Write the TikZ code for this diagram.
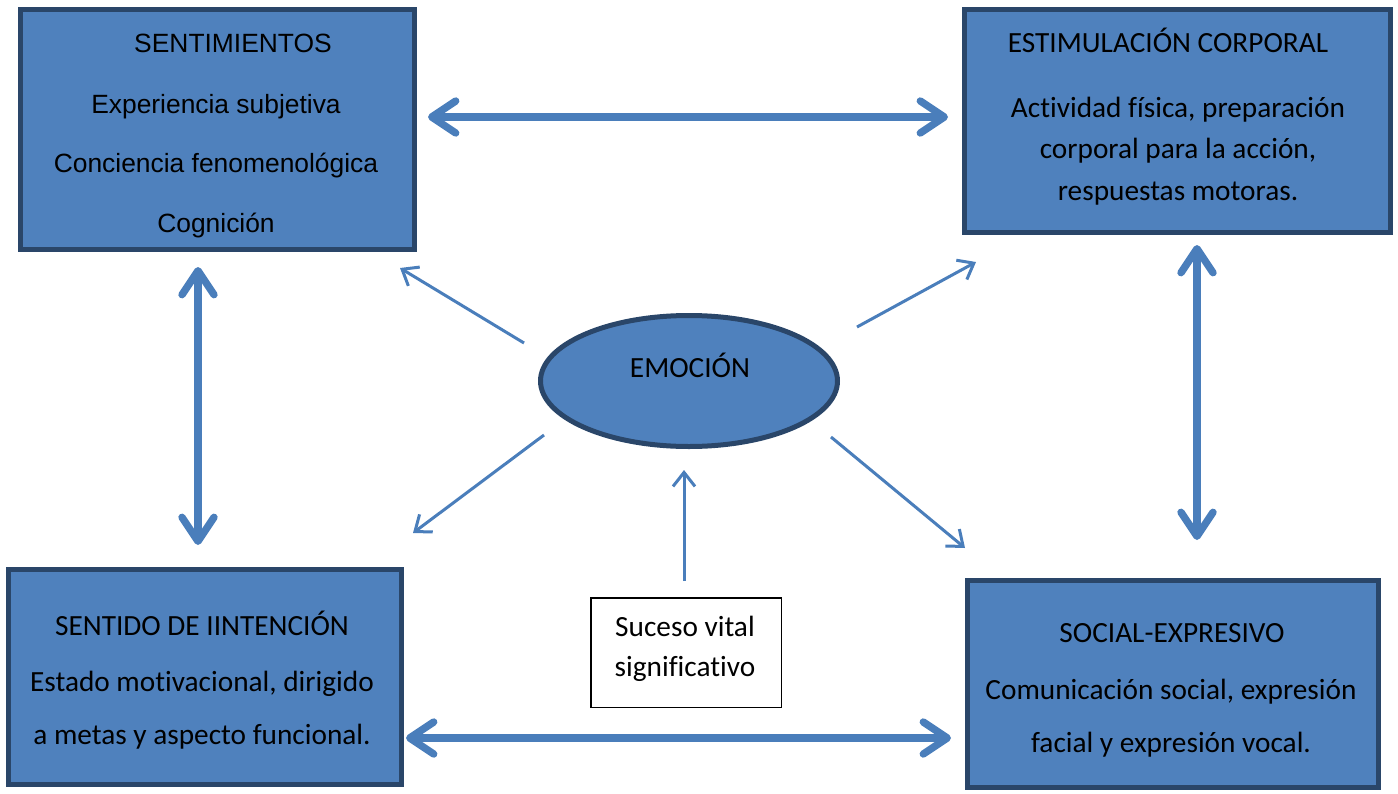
\documentclass[tikz,border=0pt]{standalone}
\usepackage{fontspec}
\setmainfont[Ligatures=NoCommon]{Carlito}
\newfontfamily\arialf{Liberation Sans}
\usetikzlibrary{arrows.meta,shapes.geometric}
\definecolor{cajaazul}{HTML}{4F81BD}
\definecolor{bordeazul}{HTML}{2A4669}
\definecolor{flechaazul}{HTML}{4A7EBB}

\begin{document}
\begin{tikzpicture}[x=0.5pt,y=-0.5pt]
			\tikzstyle{caja}=[
				rectangle, draw=bordeazul, fill=cajaazul,
				line width=2.5pt, inner sep=0pt
			]
			\tikzstyle{titulo}=[inner sep=0pt, font=\fontsize{14.65}{20}\selectfont]
			\tikzstyle{cuerpo}=[align=center, inner sep=0pt]
			\tikzstyle{doble}=[<->,draw=flechaazul,line width=3.7pt,
				>={Straight Barb[length=12pt,width=16pt,line width=3.7pt,round]}]
			\tikzstyle{fina}=[->,draw=flechaazul,line width=1.5pt,
				>={Straight Barb[length=7pt,width=11pt]}]
			\useasboundingbox (0,0) rectangle (1398,793);
			% cajas
			\node[caja, minimum width=197pt, minimum height=120pt] (sent) at (217.5,129.5) {};
			\node[caja, minimum width=213pt, minimum height=111.5pt] (estim) at (1177.5,121) {};
			\node[caja, minimum width=196.5pt, minimum height=107.5pt] (sentido) at (205,677) {};
			\node[caja, minimum width=205.5pt, minimum height=103.5pt] (social) at (1173,684) {};
			\node[caja, ellipse, minimum width=148.5pt, minimum height=65.5pt] (emo) at (689,381) {};
			\node[draw, line width=0.75pt, minimum width=95.25pt, minimum height=54.75pt] (suceso) at (686,652.5) {};
			% textos
			\node[cuerpo, font=\fontsize{14.65}{20}\selectfont] (sucesoT) at (685,649)
				{Suceso vital\\significativo};
			\node[titulo, font=\arialf\fontsize{13.2}{20}\selectfont] (sentT) at (233,43) {SENTIMIENTOS};
			\node[cuerpo, font=\arialf\fontsize{13.2}{29.75}\selectfont] (sentB) at (216,166)
				{Experiencia subjetiva\\Conciencia fenomenológica\\Cognición};
			\node[titulo] (estimT) at (1168,40) {ESTIMULACIÓN CORPORAL};
			\node[cuerpo, font=\fontsize{14.65}{20.75}\selectfont] (estimB) at (1178,151)
				{Actividad física, preparación\\corporal para la acción,\\respuestas motoras.};
			\node[titulo] (sentidoT) at (202,623) {SENTIDO DE IINTENCIÓN};
			\node[cuerpo, font=\fontsize{14.65}{26.5}\selectfont] (sentidoB) at (202,710)
				{Estado motivacional, dirigido\\a metas y aspecto funcional.};
			\node[titulo] (socialT) at (1172,633) {SOCIAL-EXPRESIVO};
			\node[cuerpo, font=\fontsize{14.65}{26.5}\selectfont] (socialB) at (1171,718)
				{Comunicación social, expresión\\facial y expresión vocal.};
			\node[titulo] (emoT) at (690,365) {EMOCIÓN};
			% extremos de flechas
			\coordinate (arrI) at (428,117);
			\coordinate (arrD) at (948,117);
			\coordinate (abaI) at (406,738);
			\coordinate (abaD) at (951,738);
			\coordinate (izqA) at (198,267);
			\coordinate (izqB) at (198,545);
			\coordinate (derA) at (1197,245);
			\coordinate (derB) at (1197,540);
			\coordinate (noA) at (524,343);
			\coordinate (noB) at (400,268);
			\coordinate (neA) at (857,327);
			\coordinate (neB) at (976,262);
			\coordinate (soA) at (544,435);
			\coordinate (soB) at (413,533);
			\coordinate (seA) at (831,437);
			\coordinate (seB) at (965,548);
			\coordinate (suA) at (684,581);
			\coordinate (suB) at (684,470);
			\draw (arrI) to (arrD) [doble];
			\draw (abaI) to (abaD) [doble];
			\draw (izqA) to (izqB) [doble];
			\draw (derA) to (derB) [doble];
			\draw (noA) to (noB) [fina];
			\draw (neA) to (neB) [fina];
			\draw (soA) to (soB) [fina];
			\draw (seA) to (seB) [fina];
			\draw (suA) to (suB) [fina];
		\end{tikzpicture}
\end{document}
